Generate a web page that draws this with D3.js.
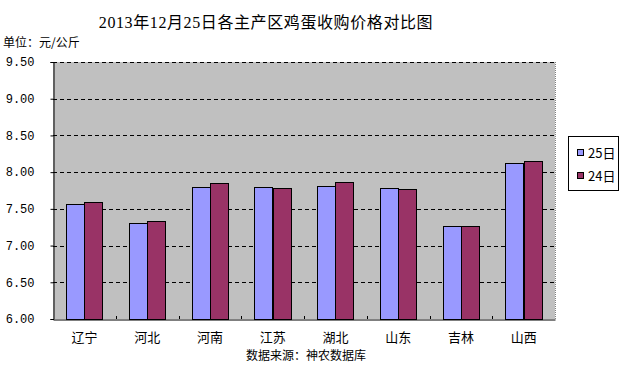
<!DOCTYPE html>
<html><head><meta charset="utf-8">
<script src="https://cdn.jsdelivr.net/npm/d3@7"></script>
<style>body{margin:0;background:#fff;}svg{display:block;}</style>
</head><body>
<svg id="c" width="624" height="365"></svg>
<script>
const categories = ["辽宁","河北","河南","江苏","湖北","山东","吉林","山西"];
const seriesNames = ["25日","24日"];
const values25 = [7.56, 7.31, 7.80, 7.80, 7.81, 7.79, 7.26, 8.13];
const values24 = [7.60, 7.34, 7.85, 7.79, 7.87, 7.77, 7.26, 8.15];
const yTicks = [6.00, 6.50, 7.00, 7.50, 8.00, 8.50, 9.00, 9.50];
const colors = ["#9999FF", "#993366"];

const svg = d3.select("#c");
const L = 53, R = 555, T = 62, B = 319;
const cjk = "'Noto Sans CJK SC', sans-serif";

const x = d3.scaleBand().domain(categories).range([L, R]);
const xs = d3.scaleBand().domain(seriesNames).range([0, x.bandwidth()]).paddingInner(0).paddingOuter(0.71);
const y = d3.scaleLinear().domain([6, 9.5]).range([B, T]);

svg.append("rect").attr("x", L).attr("y", T).attr("width", R - L).attr("height", B - T).attr("fill", "#C0C0C0");

// gridlines
svg.append("g").selectAll("line").data(yTicks.filter(d => d > 6)).join("line")
  .attr("x1", L).attr("x2", R).attr("y1", d => Math.round(y(d)) + 0.5).attr("y2", d => Math.round(y(d)) + 0.5)
  .attr("stroke", "#000").attr("stroke-dasharray", "4,3");
// right border dotted
svg.append("line").attr("x1", R + 0.5).attr("x2", R + 0.5).attr("y1", T).attr("y2", B)
  .attr("stroke", "#808080").attr("stroke-dasharray", "1,1");

// bars
const data = categories.map((c, i) => ({c, v: [values25[i], values24[i]]}));
const g = svg.append("g");
data.forEach(d => {
  d.v.forEach((v, j) => {
    g.append("rect")
      .attr("x", Math.round(x(d.c) + xs(seriesNames[j])) + 0.5)
      .attr("y", Math.round(y(v)) + 0.5)
      .attr("width", Math.round(xs.bandwidth()))
      .attr("height", Math.round(B - y(v)))
      .attr("fill", colors[j]).attr("stroke", "#000").attr("stroke-width", 1);
  });
});

// axes
const yAxis = d3.axisLeft(y).tickValues(yTicks).tickFormat(d3.format(".2f")).tickSize(3).tickPadding(16);
const ya = svg.append("g").attr("transform", `translate(${L + 0.5},0)`).call(yAxis);
ya.select(".domain").attr("stroke", "#000");
ya.selectAll("text").attr("font-family", "'Liberation Mono', monospace").attr("font-size", 12).attr("fill", "#000");

const xAxis = d3.axisBottom(x).tickSize(0);
const xa = svg.append("g").attr("transform", `translate(0,${B + 0.5})`).call(xAxis);
xa.select(".domain").attr("stroke", "#000");
xa.selectAll("text").attr("font-family", cjk).attr("font-size", 13).attr("fill", "#000")
  .attr("dy", null).attr("y", 341 - B);
// inside tick marks between categories
svg.append("g").selectAll("line").data(categories.slice(1)).join("line")
  .attr("x1", d => Math.round(x(d)) + 0.5).attr("x2", d => Math.round(x(d)) + 0.5)
  .attr("y1", B).attr("y2", B - 3).attr("stroke", "#000");

// title
svg.append("text").attr("x", 266).attr("y", 28).attr("text-anchor", "middle")
  .attr("font-family", "'Liberation Serif', 'Noto Sans CJK SC', serif").attr("font-size", 16)
  .attr("letter-spacing", 0.6).text("2013年12月25日各主产区鸡蛋收购价格对比图");
svg.append("text").attr("x", 3).attr("y", 47).attr("font-family", cjk).attr("font-size", 12).text("单位：元/公斤");
svg.append("text").attr("x", 306).attr("y", 360).attr("text-anchor", "middle")
  .attr("font-family", cjk).attr("font-size", 12).text("数据来源：神农数据库");

// legend
const lg = svg.append("g");
lg.append("rect").attr("x", 568.5).attr("y", 136.5).attr("width", 50).attr("height", 54).attr("fill", "#fff").attr("stroke", "#000");
seriesNames.forEach((s, j) => {
  lg.append("rect").attr("x", 577.5).attr("y", 149.5 + j * 23).attr("width", 6).attr("height", 6)
    .attr("fill", colors[j]).attr("stroke", "#000");
  lg.append("text").attr("x", 588).attr("y", 158 + j * 23).attr("font-family", cjk).attr("font-size", 13).text(s);
});
</script>
</body></html>
